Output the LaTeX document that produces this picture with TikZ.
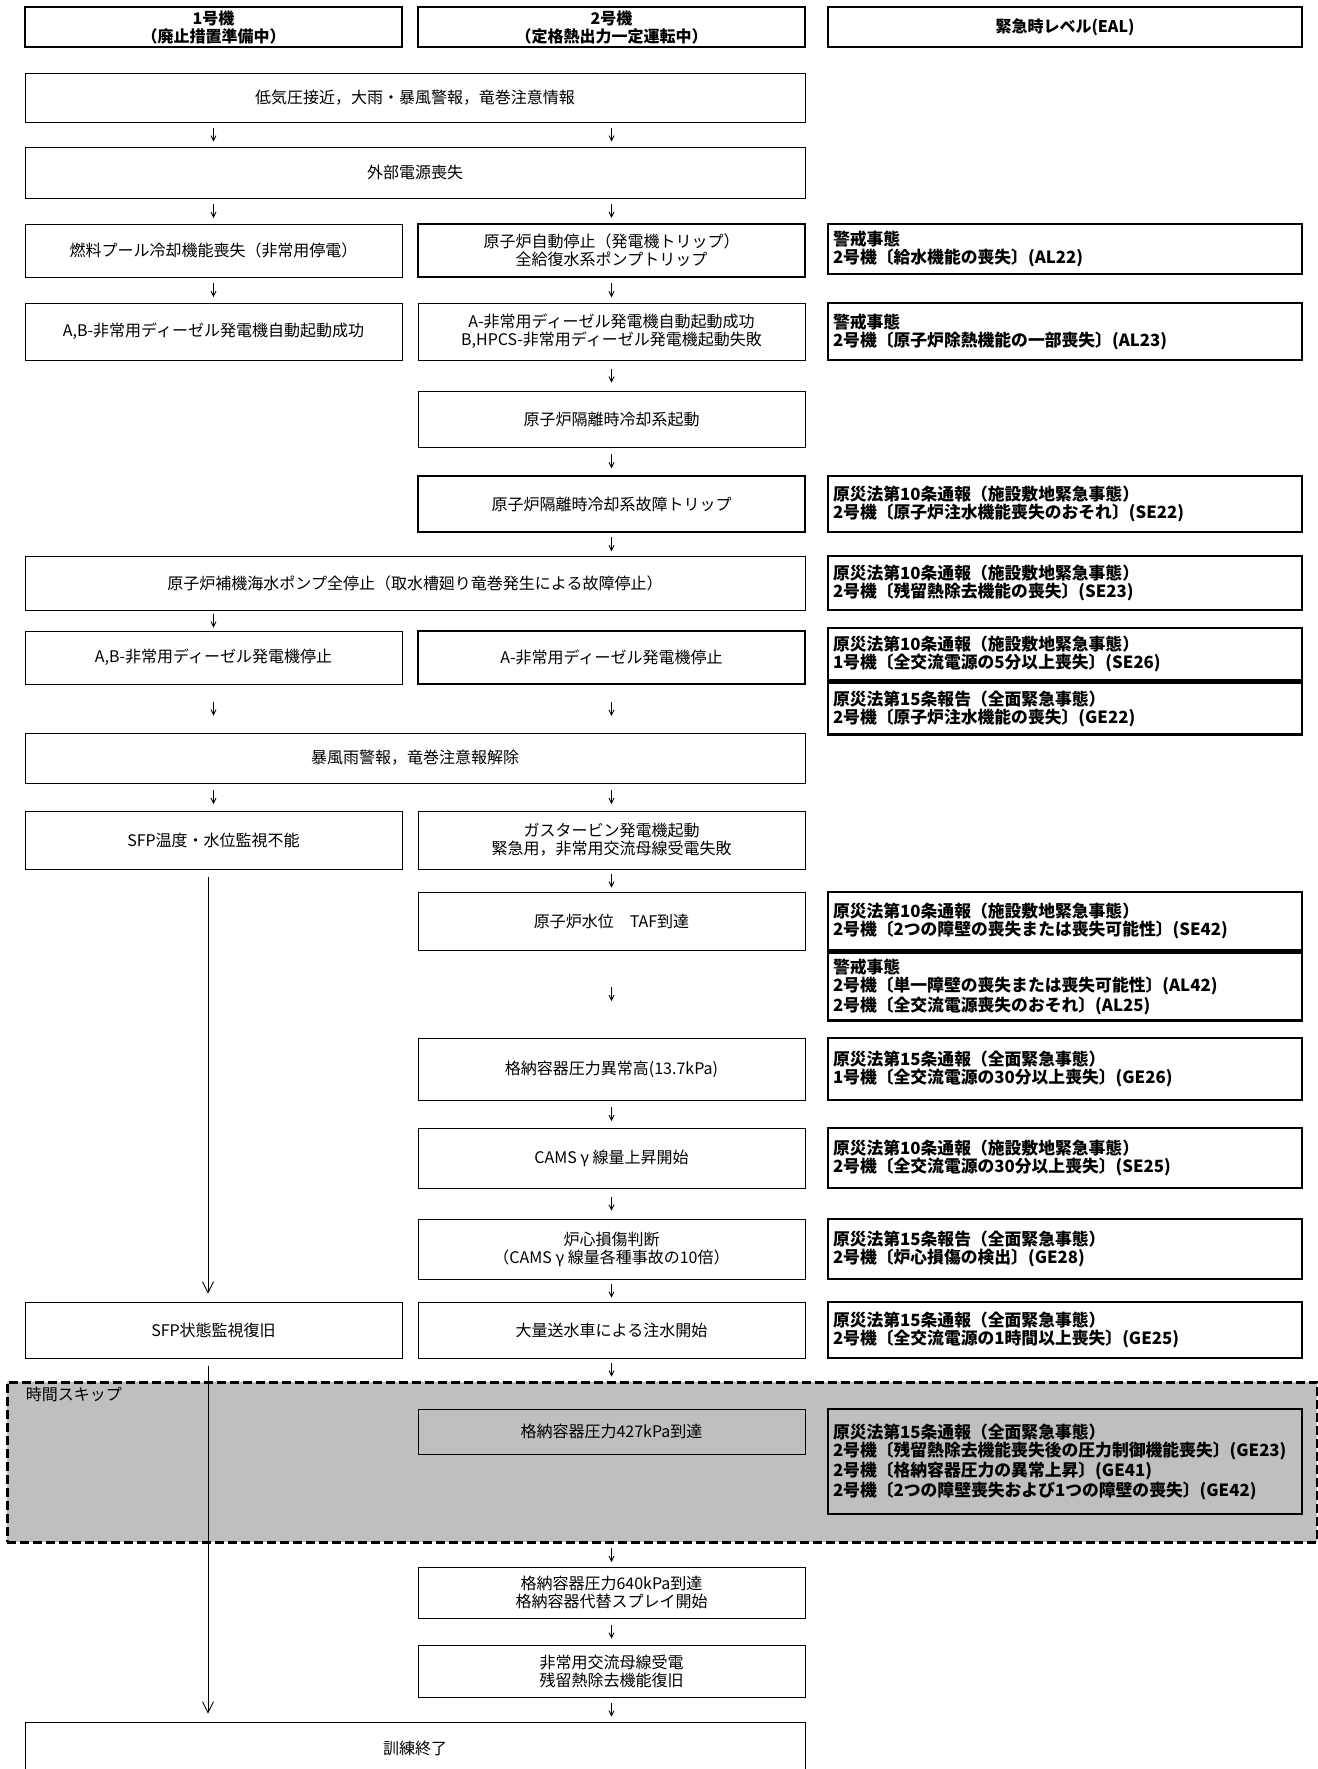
\documentclass[tikz,border=0pt]{standalone}
\usepackage{fontspec}
\setmainfont{Noto Sans CJK JP}
\usetikzlibrary{positioning,calc,arrows.meta,shadows}

\tikzset{
  box/.style={draw, line width=.5pt, fill=white, align=center, inner sep=2pt,
    font=\fontsize{8pt}{9pt}\selectfont,
    drop shadow={shadow xshift=.5pt, shadow yshift=-.5pt, fill=black, opacity=1}},
  boldbox/.style={box, line width=1pt},
  eal/.style={box, line width=1.4pt, align=left, text width=232pt, inner xsep=2.5pt,
    font=\fontsize{8.4pt}{9pt}\selectfont\bfseries},
  hdr/.style={box, line width=1.25pt, inner ysep=1pt, font=\fontsize{8pt}{9pt}\selectfont\bfseries},
  col1/.style={minimum width=188.5pt},
  col2/.style={minimum width=193.5pt},
  col3/.style={minimum width=237pt},
  wide/.style={minimum width=390pt},
  skipzone/.style={draw, fill=black!25, line width=1.5pt, dash pattern=on 4.5pt off 2pt,
    minimum width=655pt, minimum height=80pt, inner sep=0pt},
  flow/.style={line width=.4pt, -{Straight Barb[length=2.5pt,width=2.5pt]}},
  longflow/.style={line width=.4pt, -{Straight Barb[length=5.5pt,width=5.5pt]},
    shorten <=3.5pt, shorten >=4pt}
}
\newcommand{\flowarrow}[3]{\draw[flow] ($(#1 |- #2.south)!.5!(#1 |- #3.north)+(0,-7)$) -- ++(0,14);}

\begin{document}
\begin{tikzpicture}[x=0.5pt, y=-0.5pt]
    \useasboundingbox (0,0) rectangle (1318,1769);
    \coordinate (c1) at (213.5,0);
    \coordinate (c2) at (611.5,0);
    \coordinate (lane) at (208,0);

    \node[hdr, col1, minimum height=20pt] (h1) at (213.5,27) {1号機\\（廃止措置準備中）};
    \node[hdr, col2, minimum height=20pt] (h2) at (611.5,27) {2号機\\（定格熱出力一定運転中）};
    \node[hdr, col3, minimum height=20pt] (h3) at (1065,27) {緊急時レベル(EAL)};

    \node[box, wide, minimum height=24.5pt] (lowp) at (415,97.5) {低気圧接近，大雨・暴風警報，竜巻注意情報};
    \node[box, wide, minimum height=25.5pt] (lossoff) at (415,172.5) {外部電源喪失};

    \node[box, col1, minimum height=26.5pt] (fuelpool) at (213.5,250.5) {燃料プール冷却機能喪失（非常用停電）};
    \node[boldbox, col2, minimum height=26.5pt] (scram) at (611.5,250.5) {原子炉自動停止（発電機トリップ）\\全給復水系ポンプトリップ};
    \node[eal, minimum height=25pt] (ealA) at (1065,249) {警戒事態\\2号機〔給水機能の喪失〕(AL22)};

    \node[box, col1, minimum height=28.5pt] (dgok1) at (213.5,331.5) {A,B-非常用ディーゼル発電機自動起動成功};
    \node[box, col2, minimum height=28.5pt] (dgok2) at (611.5,331.5) {A-非常用ディーゼル発電機自動起動成功\\B,HPCS-非常用ディーゼル発電機起動失敗};
    \node[eal, minimum height=28.5pt] (ealB) at (1065,331.5) {警戒事態\\2号機〔原子炉除熱機能の一部喪失〕(AL23)};

    \node[box, col2, minimum height=28pt] (ricstart) at (611.5,419) {原子炉隔離時冷却系起動};

    \node[boldbox, col2, minimum height=28pt] (rictrip) at (611.5,504) {原子炉隔離時冷却系故障トリップ};
    \node[eal, minimum height=28pt] (ealC) at (1065,504) {原災法第10条通報（施設敷地緊急事態）\\2号機〔原子炉注水機能喪失のおそれ〕(SE22)};

    \node[box, wide, minimum height=27pt] (rswstop) at (415,583) {原子炉補機海水ポンプ全停止（取水槽廻り竜巻発生による故障停止）};
    \node[eal, minimum height=27pt] (ealD) at (1065,583) {原災法第10条通報（施設敷地緊急事態）\\2号機〔残留熱除去機能の喪失〕(SE23)};

    \node[box, col1, minimum height=26.5pt] (dgstop1) at (213.5,657.5) {A,B-非常用ディーゼル発電機停止};
    \node[boldbox, col2, minimum height=26.5pt] (dgstop2) at (611.5,657.5) {A-非常用ディーゼル発電機停止};
    \node[eal, minimum height=26pt] (ealE) at (1065,654) {原災法第10条通報（施設敷地緊急事態）\\1号機〔全交流電源の5分以上喪失〕(SE26)};
    \node[eal, minimum height=26pt, below=0pt of ealE] (ealF) {原災法第15条報告（全面緊急事態）\\2号機〔原子炉注水機能の喪失〕(GE22)};

    \node[box, wide, minimum height=25pt] (stormoff) at (415,758) {暴風雨警報，竜巻注意報解除};

    \node[box, col1, minimum height=29pt] (sfpmon) at (213.5,840) {SFP温度・水位監視不能};
    \node[box, col2, minimum height=29pt] (gtg) at (611.5,840) {ガスタービン発電機起動\\緊急用，非常用交流母線受電失敗};

    \node[box, col2, minimum height=29pt] (taf) at (611.5,921) {原子炉水位\quad TAF到達};
    \node[eal, minimum height=29pt] (ealG) at (1065,921) {原災法第10条通報（施設敷地緊急事態）\\2号機〔2つの障壁の喪失または喪失可能性〕(SE42)};
    \node[eal, minimum height=34pt, below=0pt of ealG] (ealH) {警戒事態\\2号機〔単一障壁の喪失または喪失可能性〕(AL42)\\2号機〔全交流電源喪失のおそれ〕(AL25)};

    \node[box, col2, minimum height=31pt] (pcvhigh) at (611.5,1069) {格納容器圧力異常高(13.7kPa)};
    \node[eal, minimum height=31pt] (ealI) at (1065,1069) {原災法第15条通報（全面緊急事態）\\1号機〔全交流電源の30分以上喪失〕(GE26)};

    \node[box, col2, minimum height=30pt] (cams) at (611.5,1158) {CAMS γ 線量上昇開始};
    \node[eal, minimum height=30pt] (ealJ) at (1065,1158) {原災法第10条通報（施設敷地緊急事態）\\2号機〔全交流電源の30分以上喪失〕(SE25)};

    \node[box, col2, minimum height=30pt] (coredmg) at (611.5,1249) {炉心損傷判断\\（CAMS γ 線量各種事故の10倍）};
    \node[eal, minimum height=30pt] (ealK) at (1065,1249) {原災法第15条報告（全面緊急事態）\\2号機〔炉心損傷の検出〕(GE28)};

    \node[box, col1, minimum height=28pt] (sfprec) at (213.5,1330) {SFP状態監視復旧};
    \node[box, col2, minimum height=28pt] (inject) at (611.5,1330) {大量送水車による注水開始};
    \node[eal, minimum height=28pt] (ealL) at (1065,1330) {原災法第15条通報（全面緊急事態）\\2号機〔全交流電源の1時間以上喪失〕(GE25)};

    \node[skipzone] (skip) at (662,1462) {};
    \node[anchor=north west, inner sep=0pt, font=\fontsize{8pt}{9pt}\selectfont] (skiplbl) at ([xshift=10pt,yshift=-3pt]skip.north west) {時間スキップ};
    \node[box, col2, fill=black!25, minimum height=22.5pt] (pcv427) at (611.5,1431.5) {格納容器圧力427kPa到達};
    \node[eal, fill=black!25, minimum height=52.5pt] (ealM) at (1065,1461.5) {原災法第15条通報（全面緊急事態）\\2号機〔残留熱除去機能喪失後の圧力制御機能喪失〕(GE23)\\2号機〔格納容器圧力の異常上昇〕(GE41)\\2号機〔2つの障壁喪失および1つの障壁の喪失〕(GE42)};

    \node[box, col2, minimum height=25.5pt] (pcv640) at (611.5,1592.5) {格納容器圧力640kPa到達\\格納容器代替スプレイ開始};
    \node[box, col2, minimum height=26pt] (acrec) at (611.5,1671) {非常用交流母線受電\\残留熱除去機能復旧};
    \node[box, wide, minimum height=26pt] (drillend) at (415,1748) {訓練終了};

    \foreach \col/\a/\b in {c1/lowp/lossoff, c2/lowp/lossoff, c1/lossoff/fuelpool, c2/lossoff/scram,
        c1/fuelpool/dgok1, c2/scram/dgok2, c2/dgok2/ricstart, c2/ricstart/rictrip, c2/rictrip/rswstop,
        c1/rswstop/dgstop1, c1/dgstop1/stormoff, c2/dgstop2/stormoff, c1/stormoff/sfpmon, c2/stormoff/gtg,
        c2/gtg/taf, c2/taf/pcvhigh, c2/pcvhigh/cams, c2/cams/coredmg, c2/coredmg/inject,
        c2/inject/skip, c2/skip/pcv640, c2/pcv640/acrec, c2/acrec/drillend}
        \flowarrow{\col}{\a}{\b};

    \draw[longflow] (lane |- sfpmon.south) -- (lane |- sfprec.north);
    \draw[longflow] (lane |- sfprec.south) -- (lane |- drillend.north);
\end{tikzpicture}
\end{document}
